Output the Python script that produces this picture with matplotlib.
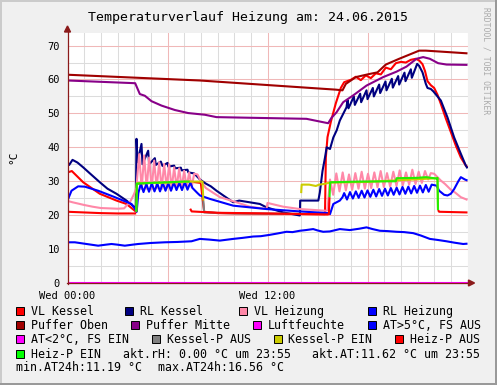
import matplotlib
matplotlib.use('Agg')
import matplotlib.pyplot as plt
from matplotlib.patches import Rectangle, Polygon
from matplotlib.lines import Line2D

# ---------------- data (hours since 00:00, deg C) ----------------
vl_kessel_t = [0, 0.26, 0.94, 1.94, 2.94, 3.54, 4.04, 4.12, 4.16, 5.0, 6.0, 7.0, 7.33, 8.0, 8.1, 8.2, 9.0, 12.0,
               15.45, 15.5, 15.6, 15.8, 16.1, 16.4, 16.6, 17.0, 17.3, 17.6, 17.9, 18.2, 18.5, 18.8, 19.1, 19.4,
               19.7, 20.0, 20.3, 20.6, 20.9, 21.1, 21.3, 21.45, 21.6, 21.8, 22.0, 22.2, 22.4, 22.7, 23.0, 23.3,
               23.6, 23.9, 24.0]
vl_kessel_v = [32.6, 33.0, 29.7, 26.3, 24.3, 23.3, 21.3, 21.0, 29.3, 29.5, 29.7, 29.9, 29.9, 29.5, 25.0, 21.0, 20.6, 20.4,
               20.3, 37.0, 43.0, 47.5, 53.0, 57.5, 59.2, 59.9, 60.8, 59.8, 61.2, 60.4, 61.8, 61.5, 63.5, 63.0,
               64.8, 65.2, 65.0, 65.8, 66.1, 65.6, 64.5, 62.5, 59.5, 58.3, 57.5, 55.5, 52.8, 48.5, 44.5, 40.5,
               37.0, 34.6, 34.2]

rl_kessel_t = [0, 0.1, 0.3, 0.6, 0.94, 1.3, 1.94, 2.4, 2.94, 3.54, 4.04, 4.1, 4.14, 4.2, 4.44, 4.5, 4.84, 4.9,
               5.24, 5.3, 5.6, 5.7, 6.0, 6.05, 6.4, 6.45, 6.8, 6.85, 7.2, 7.25, 7.6, 7.95, 8.3, 8.6, 8.94, 9.94,
               10.3, 11.54, 11.94, 12.94, 13.94, 13.96, 15.05, 15.14, 15.3, 15.45, 15.55, 15.75, 15.95, 16.15,
               16.34, 16.74, 16.80, 16.86, 17.18, 17.24, 17.56, 17.62, 17.94, 18.00, 18.32, 18.38, 18.70, 18.76,
               19.08, 19.14, 19.46, 19.52, 19.84, 19.90, 20.22, 20.28, 20.60, 20.66, 20.98, 21.1, 21.3, 21.5,
               21.6, 21.8, 21.95, 22.2, 22.4, 22.8, 23.2, 23.6, 23.9, 24.0]
rl_kessel_v = [35.4, 34.8, 36.3, 35.5, 34.1, 32.5, 29.7, 27.8, 26.3, 24.3, 22.3, 22.0, 42.5, 35.6, 41.0, 35.0, 39.0, 35.0,
               36.8, 34.8, 35.8, 34.5, 35.4, 34.3, 34.6, 33.8, 34.0, 33.2, 33.4, 32.6, 32.3, 30.5, 29.3, 28.5, 27.2, 23.8,
               24.3, 23.3, 22.3, 20.8, 19.9, 24.3, 24.3, 26.7, 33.0, 37.0, 40.0, 39.5, 42.9, 45.0,
               47.9, 51.8, 54.0, 51.5, 55.0, 52.5, 55.8, 53.3, 56.8, 54.2, 57.5, 55.0, 58.5, 56.0,
               59.4, 56.8, 60.2, 57.6, 61.0, 58.5, 62.0, 59.5, 63.0, 60.5, 64.6, 64.0, 62.1, 58.7,
               57.5, 57.2, 56.5, 55.0, 53.8, 48.8, 42.9, 38.1, 34.6, 33.8]

vl_heizung_t = [0, 0.3, 1.0, 1.5, 2.0, 3.0, 3.4, 3.8, 4.0, 4.13,
                4.3, 4.45, 4.6, 4.75, 4.9, 5.05, 5.2, 5.35, 5.5, 5.65, 5.8, 5.95, 6.1, 6.25, 6.4, 6.55, 6.7, 6.85,
                7.0, 7.15, 7.3, 7.45, 7.6, 7.8, 8.0, 8.3, 8.55, 9.15, 9.94, 10.94, 11.94, 12.0, 12.94, 13.94,
                15.5, 15.6, 15.75, 15.94, 16.13, 16.32, 16.51, 16.70, 16.89, 17.08, 17.27, 17.46, 17.65, 17.84,
                18.03, 18.22, 18.41, 18.60, 18.79, 18.98, 19.17, 19.36, 19.55, 19.74, 19.93, 20.12, 20.31, 20.50,
                20.69, 20.88, 21.07, 21.26, 21.45, 21.64, 21.8, 22.0, 22.4, 22.65, 23.0, 23.25, 23.6, 23.85, 24.0]
vl_heizung_v = [24.2, 23.8, 23.0, 22.5, 22.1, 21.9, 22.0, 24.3, 26.3, 28.0,
                38.0, 27.7, 37.6, 27.8, 37.0, 27.6, 36.1, 27.9, 35.6, 27.7, 35.1, 28.0, 35.0, 27.8, 34.1, 28.1, 33.8, 28.0,
                33.1, 28.3, 32.6, 28.2, 32.2, 32.0, 30.0, 28.0, 27.2, 25.3, 24.1, 22.5, 21.8, 23.6, 22.5, 21.8,
                21.3, 21.5, 30.5, 26.0, 32.3, 27.0, 32.6, 27.3, 32.0, 27.5, 32.4, 27.8, 32.8, 27.8,
                32.2, 28.0, 32.6, 28.2, 33.0, 28.3, 32.4, 28.4, 32.8, 28.6, 33.2, 28.8, 32.6, 29.0,
                33.4, 29.2, 32.8, 29.5, 33.0, 30.5, 32.4, 32.2, 30.2, 29.2, 27.5, 26.7, 25.3, 24.8, 24.5]

rl_heizung_t = [0, 0.24, 0.64, 1.04, 1.84, 2.84, 3.84, 4.1, 4.15, 4.25,
                4.4, 4.56, 4.73, 4.89, 5.06, 5.22, 5.39, 5.55, 5.72, 5.88, 6.05, 6.21, 6.38, 6.54, 6.71, 6.87,
                7.04, 7.2, 7.37, 7.5, 7.8, 7.95, 8.54, 9.94, 11.94, 13.94, 15.64, 15.75, 15.95, 16.34, 16.5,
                16.6, 16.77, 16.95, 17.12, 17.3, 17.47, 17.65, 17.82, 18.0, 18.17, 18.35, 18.52, 18.7, 18.87,
                19.05, 19.22, 19.4, 19.57, 19.75, 19.92, 20.1, 20.27, 20.45, 20.62, 20.8, 20.97, 21.15, 21.32,
                21.5, 21.67, 21.85, 22.14, 22.3, 22.6, 22.8, 23.0, 23.2, 23.45, 23.6, 23.85, 24.0]
rl_heizung_v = [24.3, 27.2, 28.5, 28.4, 27.2, 25.3, 23.3, 21.5, 21.0, 26.5,
                29.3, 26.8, 29.2, 26.9, 29.4, 27.0, 29.3, 27.0, 29.5, 27.2, 29.4, 27.2, 29.6, 27.4, 29.5, 27.4,
                29.7, 27.5, 29.6, 28.0, 26.5, 25.8, 24.8, 22.8, 21.8, 21.1, 20.6, 20.3, 23.3, 24.3, 25.3,
                26.5, 24.6, 26.8, 24.9, 27.0, 25.1, 27.2, 25.2, 27.3, 25.4, 27.5, 25.5, 27.7, 25.7,
                27.8, 25.8, 28.0, 26.0, 28.1, 26.1, 28.3, 26.3, 28.4, 26.4, 28.6, 26.6, 28.7, 26.7,
                28.9, 26.9, 29.0, 28.7, 27.2, 26.0, 25.8, 26.3, 27.7, 30.0, 31.2, 30.5, 30.2]

puffer_oben_t = [0, 7.94, 16.1, 16.5, 16.7, 17.3, 18.1, 18.6, 19.1, 19.9, 21.1, 21.5, 24.0]
puffer_oben_v = [61.4, 59.7, 57.0, 56.8, 58.7, 60.7, 61.6, 62.1, 64.4, 66.1, 68.5, 68.5, 67.7]

puffer_mitte_t = [0, 4.06, 4.34, 4.64, 5.04, 5.64, 6.44, 7.24, 8.24, 8.94, 14.34, 15.64, 15.84, 16.14, 16.54,
                  17.14, 17.94, 18.94, 19.74, 20.34, 20.94, 21.34, 21.74, 22.24, 22.74, 24.0]
puffer_mitte_v = [59.7, 58.9, 55.7, 55.2, 53.6, 52.3, 51.0, 50.1, 49.6, 48.9, 48.4, 47.1, 48.7, 50.3, 53.3,
                  55.3, 58.2, 60.7, 62.3, 63.8, 66.1, 66.6, 66.1, 64.8, 64.4, 64.3]

luftfeuchte_t = [0, 24.0]
luftfeuchte_v = [0.0, 0.0]

at_t = [0, 0.44, 1.0, 1.84, 2.3, 2.64, 3.0, 3.44, 3.9, 4.24, 5.0, 5.84, 6.6, 7.44, 7.94, 8.5, 9.14, 9.94, 10.5,
        11.14, 11.6, 12.14, 12.6, 13.14, 13.5, 13.94, 14.3, 14.74, 15.0, 15.34, 15.74, 16.34, 16.94, 17.5,
        17.94, 18.3, 18.74, 19.2, 19.74, 20.2, 20.74, 21.2, 21.74, 22.2, 22.74, 23.2, 23.74, 24.0]
at_v = [12.0, 12.0, 11.6, 11.0, 11.3, 11.5, 11.3, 11.0, 11.3, 11.5, 11.8, 12.0, 12.1, 12.3, 13.0, 12.8, 12.5, 13.0, 13.3,
        13.7, 13.8, 14.2, 14.6, 15.1, 15.0, 15.4, 15.6, 15.9, 15.5, 15.1, 15.2, 15.9, 15.6, 16.0,
        16.4, 15.9, 15.4, 15.3, 15.1, 15.0, 14.7, 14.0, 13.0, 12.7, 12.3, 11.9, 11.5, 11.6]

# pump state lines (segments)
kessel_p_ein_segments = [
    ([4.13, 4.16, 6.0, 7.33, 7.4, 8.1, 8.15], [21.0, 29.4, 29.6, 29.9, 29.9, 29.9, 24.3]),
    ([14.02, 14.05, 14.5, 14.9, 15.1, 15.4, 15.75, 18.0, 22.2, 22.23], [26.5, 29.0, 29.0, 28.6, 29.0, 29.2, 29.6, 29.8, 30.9, 21.5]),
]
kessel_p_aus_segments = [
    ([8.15, 8.2, 10.0, 13.98], [24.3, 20.8, 20.5, 20.4]),
]
heiz_p_aus_segments = [
    ([0, 1.0, 2.0, 3.0, 4.0, 4.12], [21.0, 20.8, 20.6, 20.5, 20.5, 20.5]),
    ([7.36, 7.45, 9.0, 12.0, 15.6, 15.68, 15.72], [21.9, 21.1, 20.7, 20.5, 20.2, 20.3, 25.3]),
    ([22.23, 22.3, 24.0], [21.5, 21.0, 20.8]),
]
heiz_p_ein_segments = [
    ([4.13, 4.16, 5.0, 6.0, 7.0, 7.33], [21.0, 29.3, 29.5, 29.7, 29.9, 29.9]),
    ([15.72, 15.76, 17.5, 19.7, 19.75, 21.0, 21.5, 22.14, 22.2, 22.23], [25.3, 29.7, 29.9, 30.0, 30.9, 31.0, 31.2, 30.8, 31.0, 21.5]),
]

title = "Temperaturverlauf Heizung am: 24.06.2015"
x_tick_vals = [0, 12]
x_tick_labels = ["Wed 00:00", "Wed 12:00"]
y_tick_vals = [0, 10, 20, 30, 40, 50, 60, 70]

legend_rows = [
    [("VL Kessel", "#FF0000"), ("RL Kessel", "#000080"), ("VL Heizung", "#FF88A8"), ("RL Heizung", "#0000FF")],
    [("Puffer Oben", "#A00000"), ("Puffer Mitte", "#880088"), ("Luftfeuchte", "#FF00FF"), ("AT>5°C, FS AUS", "#0000FF")],
    [("AT<2°C, FS EIN", "#FF00FF"), ("Kessel-P AUS", "#808080"), ("Kessel-P EIN", "#CCCC00"), ("Heiz-P AUS", "#FF0000")],
    [("Heiz-P EIN", "#00FF00")],
]
comment_row4 = ["akt.rH: 0.00 °C um 23:55", "akt.AT:11.62 °C um 23:55"]
comment_row5 = ["min.AT24h:11.19 °C", "max.AT24h:16.56 °C"]

# ---------------- layout ----------------
W, H = 497, 385
MONO = 'DejaVu Sans Mono'
LEG_FS = 8.4
fig = plt.figure(figsize=(W / 100, H / 100), dpi=100)
fig.patch.set_facecolor('#F0F0F0')


def fx(px):
    return px / W


def fy(py):
    return 1 - py / H


L, R, T, B = 67.5, 467.5, 33.0, 283.0
YMAX = 73.7
ax = fig.add_axes([fx(L), fy(B), (R - L) / W, (B - T) / H])
ax.set_facecolor('white')
ax.set_xlim(0, 24)
ax.set_ylim(0, YMAX)
for s in ax.spines.values():
    s.set_visible(False)

# grid
for h in range(1, 25):
    col = '#F0B8B8' if h % 6 == 0 else '#DCDCDC'
    ax.axvline(h, color=col, lw=0.75, zorder=1 if h % 6 else 1.5)
for v in range(5, 75, 5):
    col = '#F0B8B8' if v % 10 == 0 else '#DCDCDC'
    ax.axhline(v, color=col, lw=0.75, zorder=1 if v % 10 else 1.5)

LW = 1.5
kw = dict(lw=LW, solid_joinstyle='round', solid_capstyle='butt')
ax.plot(vl_kessel_t, vl_kessel_v, color='#FF0000', zorder=3, **kw)
ax.plot(rl_kessel_t, rl_kessel_v, color='#000080', zorder=3, **kw)
ax.plot(vl_heizung_t, vl_heizung_v, color='#FF88A8', zorder=3, **kw)
ax.plot(rl_heizung_t, rl_heizung_v, color='#0000FF', zorder=3, **kw)
ax.plot(puffer_oben_t, puffer_oben_v, color='#A00000', zorder=3, **kw)
ax.plot(puffer_mitte_t, puffer_mitte_v, color='#880088', zorder=3, **kw)
ax.plot(luftfeuchte_t, luftfeuchte_v, color='#FF00FF', zorder=6, clip_on=False, **kw)
ax.plot(at_t, at_v, color='#0000FF', zorder=3, **kw)
for t, v in kessel_p_aus_segments:
    ax.plot(t, v, color='#808080', zorder=3, **kw)
for t, v in kessel_p_ein_segments:
    ax.plot(t, v, color='#CCCC00', zorder=3, **kw)
for t, v in heiz_p_aus_segments:
    ax.plot(t, v, color='#FF0000', zorder=3, **kw)
for t, v in heiz_p_ein_segments:
    ax.plot(t, v, color='#22EE00', zorder=3, **kw)

# ticks
ax.set_xticks(x_tick_vals)
ax.set_xticklabels(x_tick_labels, fontfamily=MONO, fontsize=7.5)
ax.set_yticks(y_tick_vals)
ax.set_yticklabels([str(v) for v in y_tick_vals], fontfamily=MONO, fontsize=7.5)
ax.tick_params(axis='x', length=0, pad=5.8)
ax.tick_params(axis='y', length=0, pad=5.5)

# axes lines with arrows
AXC = '#8B1A1A'
fig.add_artist(Line2D([fx(L), fx(L)], [fy(B + 1), fy(T - 2)], color=AXC, lw=0.9))
fig.add_artist(Polygon([[fx(L - 3), fy(T - 1)], [fx(L + 3), fy(T - 1)], [fx(L), fy(T - 7)]],
                       closed=True, color=AXC, transform=fig.transFigure))
fig.add_artist(Line2D([fx(L - 1), fx(R + 2)], [fy(B), fy(B)], color=AXC, lw=0.9, zorder=1))
fig.add_artist(Polygon([[fx(R + 1), fy(B - 3)], [fx(R + 1), fy(B + 3)], [fx(R + 7), fy(B)]],
                       closed=True, color=AXC, transform=fig.transFigure))

# title, axis label, watermark
fig.text(fx(248), fy(20.5), title, ha='center', va='baseline', fontfamily=MONO, fontsize=9.5)
fig.text(fx(13.5), fy(157), '°C', rotation=90, ha='center', va='center', fontfamily=MONO, fontsize=8)
fig.text(fx(486), fy(7), 'RRDTOOL / TOBI OETIKER', rotation=270, ha='center', va='top',
         fontfamily=MONO, fontsize=5.8, color='#AAAAAA')

# legend
row_base = [315.0, 329.0, 343.2, 357.5, 371.0]
col_text_x_rows = [
    [30.7, 140.0, 253.7, 382.7],
    [30.7, 146.0, 267.5, 382.7],
    [30.7, 166.7, 288.3, 410.0],
    [30.7],
]
for r, items in enumerate(legend_rows):
    for c, (label, colr) in enumerate(items):
        tx = col_text_x_rows[r][c]
        sx = tx - 14.6
        yb = row_base[r]
        fig.add_artist(Rectangle((fx(sx), fy(yb)), 8 / W, 8 / H, transform=fig.transFigure,
                                 facecolor=colr, edgecolor='black', lw=0.7))
        fig.text(fx(tx), fy(yb), label, ha='left', va='baseline', fontfamily=MONO, fontsize=LEG_FS)
fig.text(fx(122.7), fy(row_base[3]), comment_row4[0], ha='left', va='baseline', fontfamily=MONO, fontsize=LEG_FS)
fig.text(fx(312.3), fy(row_base[3]), comment_row4[1], ha='left', va='baseline', fontfamily=MONO, fontsize=LEG_FS)
fig.text(fx(16.0), fy(row_base[4]), comment_row5[0], ha='left', va='baseline', fontfamily=MONO, fontsize=LEG_FS)
fig.text(fx(158.3), fy(row_base[4]), comment_row5[1], ha='left', va='baseline', fontfamily=MONO, fontsize=LEG_FS)

# image border shading
fig.add_artist(Rectangle((0, fy(2)), 1, 2 / H, transform=fig.transFigure, color='#CBCBCB', lw=0))
fig.add_artist(Rectangle((0, 0), 2 / W, 1, transform=fig.transFigure, color='#CBCBCB', lw=0))
fig.add_artist(Rectangle((0, 0), 1, 2 / H, transform=fig.transFigure, color='#999999', lw=0))
fig.add_artist(Rectangle((1 - 2 / W, 0), 2 / W, 1, transform=fig.transFigure, color='#999999', lw=0))

fig.savefig('out.png', dpi=100, facecolor=fig.get_facecolor())
